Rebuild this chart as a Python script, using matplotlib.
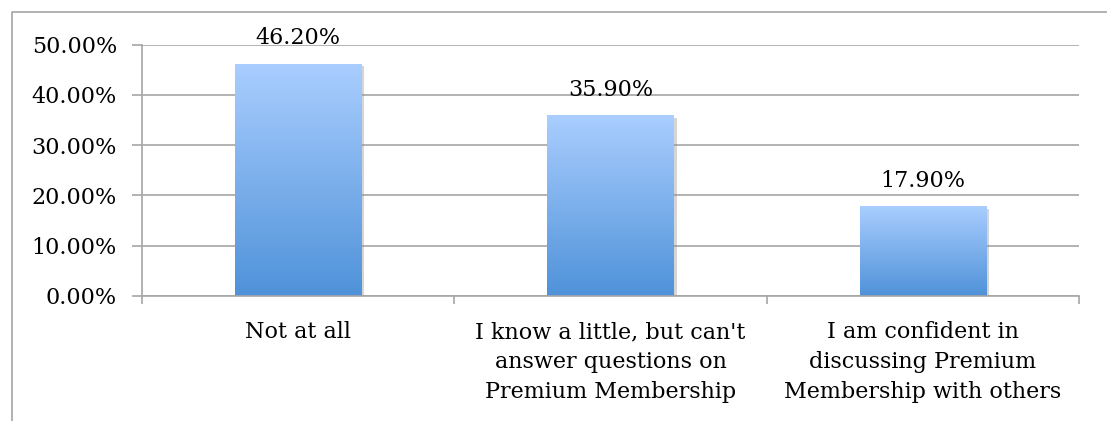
import numpy as np
import matplotlib.pyplot as plt
from matplotlib.colors import LinearSegmentedColormap
from matplotlib.lines import Line2D
from matplotlib.ticker import FuncFormatter
import matplotlib.patheffects as pe

categories = ["Not at all",
              "I know a little, but can't\nanswer questions on\nPremium Membership",
              "I am confident in\ndiscussing Premium\nMembership with others"]
values = [46.2, 35.9, 17.9]
y_ticks = [0, 10, 20, 30, 40, 50]

plt.rcParams['font.family'] = ['DejaVu Serif']
grey = '#A6A6A6'
fs = 16

fig = plt.figure(figsize=(11.07, 4.21), dpi=100)
ax = fig.add_axes([142 / 1107, 1 - 296 / 421, (1079 - 142) / 1107, (296 - 44.5) / 421])

# outer chart border: only the left and top edges are visible
bx, by = 11.5 / 1107, 1 - 11.5 / 421
fig.add_artist(Line2D([bx, bx, 1.05], [-0.05, by, by], transform=fig.transFigure,
                      color=grey, linewidth=1.2, zorder=0))

x = np.arange(len(values))
bars = ax.bar(x, values, width=0.405, color='none', zorder=2,
              path_effects=[pe.SimplePatchShadow(offset=(2, -2), shadow_rgbFace='#888888', alpha=0.35),
                            pe.Normal()])

cmap = LinearSegmentedColormap.from_list('blue', ['#4F92D9', '#AACEFF'])
grad = np.linspace(0, 1, 256).reshape(-1, 1)
for b in bars:
    x0, w, h = b.get_x(), b.get_width(), b.get_height()
    im = ax.imshow(grad, cmap=cmap, origin='lower', aspect='auto',
                   extent=(x0, x0 + w, 0, h), zorder=3)
    im.set_clip_path(b)

for xi, v in zip(x, values):
    ax.annotate(f"{v:.2f}%", (xi, v), xytext=(0, 14), textcoords='offset points',
                ha='center', va='baseline', fontsize=fs, zorder=4)

ax.set_xlim(-0.5, 2.5)
ax.set_ylim(0, 50)
ax.set_yticks(y_ticks)
ax.yaxis.set_major_formatter(FuncFormatter(lambda v, _: f"{v:.2f}%"))
ax.set_xticks(x)
ax.set_xticklabels(categories, fontsize=fs, linespacing=1.48)
ax.set_xticks([-0.5, 0.5, 1.5, 2.5], minor=True)
ax.tick_params(axis='x', which='major', length=0, pad=18)
ax.tick_params(axis='x', which='minor', length=6, width=1.2, color=grey, direction='out')
ax.tick_params(axis='y', length=7, width=1.2, color=grey, labelsize=fs, pad=11)

ax.grid(axis='y', color=grey, linewidth=1.2, zorder=0)
ax.set_axisbelow(True)
for s in ['top', 'right']:
    ax.spines[s].set_visible(False)
for s in ['left', 'bottom']:
    ax.spines[s].set_color(grey)
    ax.spines[s].set_linewidth(1.2)
ax.spines['bottom'].set_zorder(5)

fig.savefig('out.png', dpi=100)
